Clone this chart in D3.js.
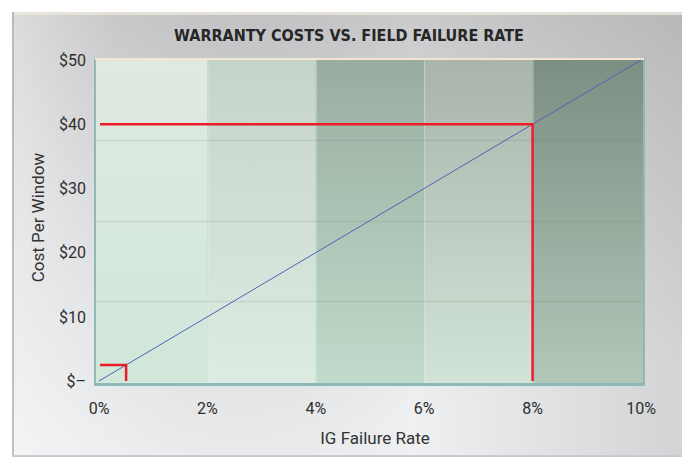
<!DOCTYPE html>
<html>
<head>
<meta charset="utf-8">
<script src="https://cdn.jsdelivr.net/npm/d3@7"></script>
<style>
  body { margin: 0; background: #ffffff; }
  svg { display: block; }
  .tick-label { font-family: Roboto, "DejaVu Sans", sans-serif; font-size: 16px; fill: #2e2e2e; }
  .axis-title { font-family: Roboto, "DejaVu Sans", sans-serif; font-size: 17px; fill: #333333; }
  .title { font-family: "DejaVu Sans Condensed", "DejaVu Sans", sans-serif; font-size: 16px; font-weight: bold; fill: #262626; }
</style>
</head>
<body>
<script>
// data
const xTicks = [0, 2, 4, 6, 8, 10];
const yTicks = [0, 10, 20, 30, 40, 50];
const yTickLabels = ["$\u2013", "$10", "$20", "$30", "$40", "$50"];
const bandStarts = [0, 2, 4, 6, 8];
const gridValues = [12.5, 25, 37.5];
const costRate = [0, 10];
const costValue = [0, 50];
const markRate = [0.5, 8];
const markCost = [2.5, 40];

//Settings
var width = 682;
var height = 460;
var plotLeft = 99;
var plotRight = 641;
var plotTop = 60;
var plotBottom = 381;

// band shading, top colour / bottom colour
var bandTop = ["#dfe9e2", "#c6d3c9", "#98ad9f", "#a9b4aa", "#7d8e82"];
var bandBottom = ["#d0e7da", "#dcece3", "#c0dbcb", "#d1e4d7", "#b1c8b9"];

var x = d3.scaleLinear().domain([0, 10]).range([plotLeft, plotRight]);
var y = d3.scaleLinear().domain([0, 50]).range([plotBottom, plotTop]);

var svg = d3.select("body").append("svg").attr("width", width).attr("height", height);
var defs = svg.append("defs");

//Frame background
var fg = defs.append("linearGradient").attr("id", "frameGrad").attr("x1", 0).attr("y1", 0).attr("x2", 0.35).attr("y2", 1);
fg.append("stop").attr("offset", 0).attr("stop-color", "#c0c0c2");
fg.append("stop").attr("offset", 0.45).attr("stop-color", "#d7d8da");
fg.append("stop").attr("offset", 1).attr("stop-color", "#eef0f2");
var fh = defs.append("linearGradient").attr("id", "frameShade").attr("x1", 0).attr("y1", 0).attr("x2", 1).attr("y2", 0);
fh.append("stop").attr("offset", 0).attr("stop-color", "#ffffff").attr("stop-opacity", 0.45);
fh.append("stop").attr("offset", 0.15).attr("stop-color", "#ffffff").attr("stop-opacity", 0.1);
fh.append("stop").attr("offset", 0.6).attr("stop-color", "#000000").attr("stop-opacity", 0.0);
fh.append("stop").attr("offset", 1).attr("stop-color", "#000000").attr("stop-opacity", 0.12);

svg.append("rect").attr("x", 12).attr("y", 12).attr("width", width - 12).attr("height", 445).attr("fill", "url(#frameGrad)");
svg.append("rect").attr("x", 12).attr("y", 12).attr("width", width - 12).attr("height", 445).attr("fill", "url(#frameShade)");
svg.append("rect").attr("x", 12).attr("y", 12).attr("width", width - 12).attr("height", 3).attr("fill", "#ece6dc").attr("opacity", 0.8);
svg.append("rect").attr("x", 12).attr("y", 12).attr("width", 2).attr("height", 445).attr("fill", "#a9aaad").attr("opacity", 0.7);
svg.append("rect").attr("x", 12).attr("y", 455).attr("width", width - 12).attr("height", 2).attr("fill", "#c9cbce");

//Plot panel
svg.append("rect").attr("x", plotLeft - 5).attr("y", plotTop - 2).attr("width", plotRight - plotLeft + 9).attr("height", plotBottom - plotTop + 7)
  .attr("fill", "#8fb8b6");
svg.append("rect").attr("x", plotLeft - 4).attr("y", plotTop - 2).attr("width", plotRight - plotLeft + 7).attr("height", 2)
  .attr("fill", "#f1e6d3");

bandStarts.forEach((b, i) => {
  var g = defs.append("linearGradient").attr("id", "band" + i).attr("x1", 0).attr("y1", 0).attr("x2", 0).attr("y2", 1);
  g.append("stop").attr("offset", 0).attr("stop-color", bandTop[i]);
  g.append("stop").attr("offset", 1).attr("stop-color", bandBottom[i]);
});

svg.append("g").selectAll("rect").data(bandStarts).join("rect")
  .attr("x", (d, i) => i == 0 ? plotLeft - 3 : x(d))
  .attr("y", plotTop)
  .attr("width", (d, i) => x(d + 2) - (i == 0 ? plotLeft - 3 : x(d)) + (i == bandStarts.length - 1 ? 2 : 0))
  .attr("height", plotBottom - plotTop + 2)
  .attr("fill", (d, i) => "url(#band" + i + ")");

// light separators between bands
svg.append("g").selectAll("line").data(bandStarts.slice(1)).join("line")
  .attr("x1", d => x(d) + 0.5).attr("x2", d => x(d) + 0.5)
  .attr("y1", plotTop).attr("y2", plotBottom + 2)
  .attr("stroke", "#ffffff").attr("stroke-opacity", 0.35).attr("stroke-width", 1);

// soft horizontal lines
svg.append("g").selectAll("line").data(gridValues).join("line")
  .attr("x1", plotLeft - 3).attr("x2", plotRight + 2)
  .attr("y1", d => Math.round(y(d)) + 0.5).attr("y2", d => Math.round(y(d)) + 0.5)
  .attr("stroke", "#5e7466").attr("stroke-opacity", 0.14).attr("stroke-width", 1.5);

//Cost line
var line = d3.line().x(d => x(d[0])).y(d => y(d[1]));
svg.append("path").datum(costRate.map((r, i) => [r, costValue[i]]))
  .attr("d", line).attr("fill", "none").attr("stroke", "#5560b5").attr("stroke-width", 1);

//Highlight markers
markRate.forEach((r, i) => {
  var path = d3.path();
  path.moveTo(x(0) + 1, y(markCost[i]));
  path.lineTo(x(r), y(markCost[i]));
  path.lineTo(x(r), y(0));
  svg.append("path").attr("d", path.toString()).attr("fill", "none")
    .attr("stroke", "#ec1c2a").attr("stroke-width", 2.5);
});

//Axes labels
svg.append("g").selectAll("text").data(yTicks).join("text")
  .attr("class", "tick-label")
  .attr("x", 86).attr("y", d => y(d)).attr("dy", "0.36em")
  .attr("text-anchor", "end")
  .text((d, i) => yTickLabels[i]);

svg.append("g").selectAll("text").data(xTicks).join("text")
  .attr("class", "tick-label")
  .attr("x", d => x(d)).attr("y", plotBottom + 33)
  .attr("text-anchor", "middle")
  .text(d => d + "%");

svg.append("text").attr("class", "axis-title")
  .attr("x", (plotLeft + plotRight) / 2 + 5).attr("y", 444)
  .attr("text-anchor", "middle").text("IG Failure Rate");

svg.append("text").attr("class", "axis-title")
  .attr("transform", "translate(44," + ((plotTop + plotBottom) / 2 - 3) + ") rotate(-90)")
  .attr("text-anchor", "middle").text("Cost Per Window");

//Title
svg.append("text").attr("class", "title")
  .attr("x", 349).attr("y", 41)
  .attr("text-anchor", "middle").text("WARRANTY COSTS VS. FIELD FAILURE RATE");
</script>
</body>
</html>
